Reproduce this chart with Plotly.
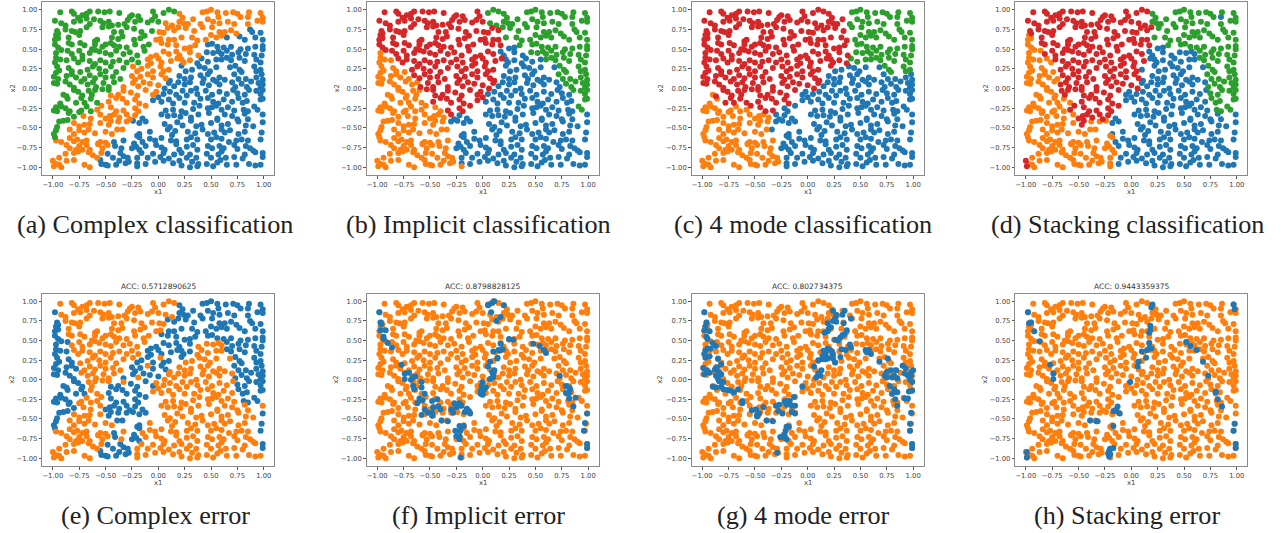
import plotly.graph_objects as go

# Shared sample locations, one list per x2 band, sorted by x1.
points = [
 [(-0.93,0.97),(-0.82,0.98),(-0.8,0.95),(-0.76,0.9),(-0.72,0.93),(-0.68,0.95),(-0.65,0.98),(-0.57,0.98),(-0.51,0.97),(-0.46,0.98),(-0.37,0.96),(-0.27,0.91),(-0.25,0.93),(-0.19,0.92),(-0.05,0.98),(-0.03,0.92),(0.05,0.96),(0.1,1.0),(0.15,0.98),(0.2,0.95),(0.23,0.9),(0.42,0.97),(0.46,0.98),(0.5,1.0),(0.56,0.97),(0.57,0.91),(0.64,0.96),(0.71,0.97),(0.75,0.95),(0.78,0.91),(0.86,0.97),(0.85,0.91),(0.97,0.96),(0.99,0.9)],
 [(-0.98,0.86),(-0.92,0.83),(-0.88,0.8),(-0.8,0.85),(-0.74,0.86),(-0.68,0.89),(-0.65,0.82),(-0.61,0.88),(-0.55,0.86),(-0.52,0.83),(-0.47,0.85),(-0.44,0.8),(-0.38,0.81),(-0.32,0.82),(-0.29,0.87),(-0.22,0.85),(-0.17,0.87),(-0.1,0.84),(-0.06,0.87),(0.0,0.85),(0.07,0.83),(0.13,0.8),(0.2,0.85),(0.24,0.83),(0.28,0.82),(0.33,0.88),(0.4,0.82),(0.47,0.88),(0.52,0.85),(0.58,0.83),(0.66,0.85),(0.72,0.82),(0.85,0.82),(0.94,0.86),(0.99,0.85)],
 [(-0.96,0.73),(-0.95,0.7),(-0.88,0.75),(-0.82,0.73),(-0.79,0.72),(-0.74,0.73),(-0.68,0.78),(-0.53,0.78),(-0.47,0.79),(-0.42,0.72),(-0.35,0.72),(-0.3,0.78),(-0.23,0.76),(-0.16,0.72),(-0.06,0.73),(0.01,0.72),(0.05,0.71),(0.09,0.77),(0.15,0.74),(0.19,0.78),(0.26,0.77),(0.34,0.73),(0.42,0.78),(0.51,0.78),(0.58,0.72),(0.63,0.72),(0.69,0.74),(0.74,0.7),(0.87,0.75),(0.89,0.72),(0.97,0.71)],
 [(-0.97,0.68),(-0.95,0.64),(-0.98,0.62),(-0.85,0.65),(-0.75,0.68),(-0.6,0.6),(-0.58,0.62),(-0.44,0.65),(-0.38,0.63),(-0.34,0.66),(-0.23,0.62),(-0.17,0.64),(-0.13,0.67),(-0.02,0.62),(0.02,0.63),(0.1,0.62),(0.15,0.62),(0.22,0.65),(0.32,0.65),(0.37,0.61),(0.45,0.62),(0.5,0.68),(0.55,0.65),(0.6,0.67),(0.65,0.65),(0.77,0.66),(0.82,0.62),(0.92,0.65),(0.99,0.62)],
 [(-0.98,0.56),(-0.95,0.52),(-0.85,0.58),(-0.82,0.56),(-0.74,0.58),(-0.7,0.55),(-0.63,0.5),(-0.6,0.56),(-0.53,0.53),(-0.5,0.56),(-0.45,0.58),(-0.42,0.55),(-0.37,0.53),(-0.3,0.52),(-0.22,0.56),(-0.14,0.53),(-0.09,0.56),(0.03,0.58),(0.09,0.56),(0.17,0.55),(0.25,0.51),(0.3,0.52),(0.35,0.55),(0.47,0.56),(0.51,0.57),(0.56,0.53),(0.62,0.52),(0.69,0.53),(0.78,0.5),(0.85,0.51),(0.92,0.53),(0.99,0.54),(0.99,0.5)],
 [(-0.97,0.45),(-0.92,0.49),(-0.86,0.48),(-0.82,0.44),(-0.75,0.48),(-0.72,0.42),(-0.65,0.45),(-0.6,0.49),(-0.56,0.47),(-0.5,0.45),(-0.45,0.43),(-0.4,0.48),(-0.33,0.44),(-0.27,0.46),(-0.2,0.42),(-0.13,0.48),(-0.07,0.4),(-0.02,0.42),(0.05,0.47),(0.1,0.44),(0.17,0.47),(0.2,0.42),(0.3,0.46),(0.38,0.42),(0.46,0.46),(0.52,0.45),(0.57,0.47),(0.6,0.44),(0.65,0.48),(0.7,0.43),(0.76,0.46),(0.83,0.44),(0.91,0.43),(0.98,0.42)],
 [(-0.97,0.39),(-0.93,0.37),(-0.98,0.33),(-0.87,0.36),(-0.8,0.38),(-0.76,0.33),(-0.72,0.37),(-0.65,0.35),(-0.6,0.31),(-0.55,0.36),(-0.5,0.33),(-0.43,0.34),(-0.37,0.36),(-0.3,0.33),(-0.25,0.37),(-0.19,0.33),(-0.1,0.37),(-0.07,0.32),(0.0,0.38),(0.03,0.33),(0.12,0.35),(0.18,0.38),(0.22,0.37),(0.24,0.33),(0.3,0.36),(0.37,0.32),(0.41,0.38),(0.47,0.34),(0.55,0.37),(0.6,0.37),(0.65,0.39),(0.69,0.36),(0.77,0.39),(0.82,0.35),(0.93,0.37),(0.97,0.33)],
 [(-0.96,0.28),(-0.94,0.23),(-0.97,0.2),(-0.85,0.26),(-0.82,0.22),(-0.74,0.21),(-0.67,0.24),(-0.62,0.28),(-0.56,0.25),(-0.5,0.22),(-0.45,0.28),(-0.4,0.21),(-0.33,0.26),(-0.24,0.28),(-0.2,0.22),(-0.16,0.25),(-0.1,0.29),(-0.05,0.22),(0.02,0.28),(0.05,0.22),(0.1,0.24),(0.22,0.29),(0.26,0.22),(0.32,0.24),(0.39,0.28),(0.44,0.26),(0.49,0.22),(0.55,0.27),(0.68,0.27),(0.73,0.29),(0.77,0.24),(0.79,0.21),(0.91,0.28),(0.93,0.22),(0.97,0.24)],
 [(-0.99,0.15),(-0.95,0.12),(-0.87,0.16),(-0.82,0.18),(-0.78,0.14),(-0.7,0.12),(-0.65,0.17),(-0.6,0.13),(-0.55,0.18),(-0.5,0.14),(-0.43,0.15),(-0.36,0.12),(-0.25,0.16),(-0.22,0.11),(-0.17,0.15),(-0.1,0.18),(-0.05,0.14),(0.03,0.18),(0.07,0.13),(0.11,0.1),(0.2,0.16),(0.25,0.12),(0.31,0.14),(0.4,0.17),(0.43,0.12),(0.47,0.18),(0.52,0.11),(0.58,0.14),(0.63,0.11),(0.72,0.18),(0.76,0.12),(0.83,0.12),(0.93,0.14),(0.98,0.18),(0.99,0.11)],
 [(-0.99,0.07),(-0.96,0.06),(-0.88,0.09),(-0.84,0.05),(-0.8,0.01),(-0.73,0.09),(-0.67,0.05),(-0.62,0.08),(-0.59,0.02),(-0.52,0.07),(-0.47,0.02),(-0.42,0.08),(-0.33,0.02),(-0.24,0.07),(-0.19,0.03),(-0.14,0.08),(-0.08,0.06),(0.0,0.04),(0.06,0.0),(0.1,0.07),(0.15,0.03),(0.19,0.08),(0.25,0.05),(0.3,0.08),(0.36,0.0),(0.42,0.07),(0.48,0.04),(0.55,0.09),(0.58,0.05),(0.7,0.08),(0.73,0.02),(0.79,0.06),(0.84,0.02),(0.88,0.09),(0.95,0.07),(0.99,0.05),(0.97,0.01)],
 [(-0.9,-0.08),(-0.87,-0.1),(-0.8,-0.02),(-0.76,-0.04),(-0.72,-0.09),(-0.66,-0.03),(-0.63,-0.08),(-0.6,-0.02),(-0.53,-0.01),(-0.47,-0.02),(-0.45,-0.09),(-0.38,-0.08),(-0.33,-0.03),(-0.26,-0.05),(-0.2,-0.09),(-0.12,-0.02),(-0.05,-0.08),(-0.02,-0.04),(0.05,-0.07),(0.11,-0.04),(0.17,-0.08),(0.23,-0.03),(0.27,-0.09),(0.31,-0.03),(0.37,-0.07),(0.45,-0.03),(0.51,-0.08),(0.58,-0.04),(0.65,-0.07),(0.71,-0.02),(0.75,-0.06),(0.82,-0.08),(0.86,-0.02),(0.93,-0.03),(0.97,-0.07),(0.99,-0.02)],
 [(-0.93,-0.19),(-0.86,-0.13),(-0.78,-0.18),(-0.73,-0.12),(-0.7,-0.18),(-0.64,-0.13),(-0.58,-0.18),(-0.47,-0.17),(-0.4,-0.12),(-0.34,-0.13),(-0.3,-0.18),(-0.22,-0.14),(-0.18,-0.19),(-0.05,-0.15),(0.0,-0.11),(0.03,-0.17),(0.1,-0.14),(0.14,-0.19),(0.2,-0.12),(0.25,-0.18),(0.34,-0.18),(0.4,-0.13),(0.47,-0.12),(0.52,-0.17),(0.57,-0.19),(0.62,-0.14),(0.7,-0.17),(0.76,-0.12),(0.8,-0.18),(0.84,-0.16),(0.97,-0.14),(0.99,-0.13)],
 [(-0.99,-0.28),(-0.96,-0.29),(-0.97,-0.24),(-0.92,-0.23),(-0.88,-0.25),(-0.84,-0.29),(-0.73,-0.28),(-0.68,-0.23),(-0.64,-0.29),(-0.54,-0.22),(-0.58,-0.27),(-0.45,-0.24),(-0.4,-0.29),(-0.33,-0.28),(-0.22,-0.25),(-0.19,-0.29),(-0.12,-0.22),(0.07,-0.28),(0.14,-0.27),(0.22,-0.29),(0.33,-0.26),(0.39,-0.22),(0.47,-0.25),(0.51,-0.24),(0.55,-0.22),(0.6,-0.27),(0.66,-0.24),(0.72,-0.28),(0.81,-0.27),(0.85,-0.29),(0.91,-0.23),(0.94,-0.27)],
 [(-0.85,-0.31),(-0.8,-0.36),(-0.75,-0.3),(-0.71,-0.35),(-0.64,-0.38),(-0.55,-0.33),(-0.5,-0.38),(-0.46,-0.35),(-0.42,-0.33),(-0.37,-0.37),(-0.3,-0.33),(-0.27,-0.39),(-0.22,-0.34),(-0.15,-0.38),(0.03,-0.33),(0.09,-0.35),(0.15,-0.34),(0.21,-0.36),(0.26,-0.31),(0.31,-0.37),(0.38,-0.33),(0.48,-0.31),(0.56,-0.38),(0.63,-0.33),(0.7,-0.35),(0.75,-0.39),(0.82,-0.32),(0.85,-0.39),(0.99,-0.33)],
 [(-0.96,-0.49),(-0.94,-0.42),(-0.9,-0.41),(-0.86,-0.4),(-0.8,-0.44),(-0.75,-0.48),(-0.7,-0.46),(-0.65,-0.45),(-0.55,-0.44),(-0.47,-0.46),(-0.45,-0.41),(-0.38,-0.42),(-0.3,-0.42),(-0.24,-0.41),(-0.18,-0.44),(-0.12,-0.42),(0.06,-0.45),(0.11,-0.49),(0.18,-0.43),(0.23,-0.47),(0.31,-0.41),(0.36,-0.48),(0.41,-0.46),(0.5,-0.44),(0.56,-0.4),(0.6,-0.47),(0.66,-0.45),(0.76,-0.42),(0.83,-0.47),(0.9,-0.48),(0.99,-0.43)],
 [(-0.99,-0.58),(-0.97,-0.53),(-0.84,-0.52),(-0.8,-0.58),(-0.75,-0.53),(-0.7,-0.56),(-0.66,-0.52),(-0.6,-0.57),(-0.5,-0.55),(-0.44,-0.58),(-0.34,-0.52),(-0.39,-0.52),(-0.2,-0.6),(-0.18,-0.58),(-0.08,-0.55),(0.09,-0.52),(0.13,-0.59),(0.16,-0.54),(0.28,-0.55),(0.35,-0.57),(0.42,-0.52),(0.47,-0.58),(0.53,-0.56),(0.6,-0.52),(0.63,-0.56),(0.68,-0.53),(0.76,-0.58),(0.82,-0.55),(0.98,-0.56)],
 [(-0.98,-0.62),(-0.97,-0.66),(-0.92,-0.68),(-0.84,-0.63),(-0.8,-0.67),(-0.77,-0.65),(-0.72,-0.68),(-0.68,-0.66),(-0.57,-0.7),(-0.55,-0.68),(-0.5,-0.69),(-0.42,-0.68),(-0.33,-0.66),(-0.23,-0.7),(-0.18,-0.62),(-0.15,-0.68),(-0.08,-0.64),(-0.03,-0.66),(0.03,-0.63),(0.12,-0.66),(0.17,-0.67),(0.27,-0.65),(0.31,-0.62),(0.37,-0.65),(0.5,-0.65),(0.55,-0.62),(0.6,-0.64),(0.67,-0.68),(0.74,-0.66),(0.79,-0.65),(0.85,-0.66),(0.97,-0.65)],
 [(-0.87,-0.72),(-0.84,-0.76),(-0.78,-0.78),(-0.75,-0.73),(-0.72,-0.78),(-0.68,-0.72),(-0.65,-0.78),(-0.57,-0.71),(-0.53,-0.76),(-0.48,-0.72),(-0.41,-0.73),(-0.35,-0.76),(-0.25,-0.76),(-0.21,-0.74),(-0.18,-0.78),(-0.12,-0.73),(-0.02,-0.72),(0.03,-0.75),(0.06,-0.78),(0.17,-0.71),(0.2,-0.78),(0.27,-0.74),(0.33,-0.72),(0.37,-0.78),(0.47,-0.73),(0.51,-0.76),(0.58,-0.73),(0.62,-0.76),(0.72,-0.72),(0.75,-0.77),(0.83,-0.73),(0.87,-0.76),(0.9,-0.79)],
 [(-0.94,-0.88),(-0.88,-0.83),(-0.8,-0.82),(-0.76,-0.8),(-0.66,-0.81),(-0.62,-0.85),(-0.58,-0.88),(-0.54,-0.82),(-0.48,-0.83),(-0.43,-0.88),(-0.36,-0.82),(-0.33,-0.86),(-0.29,-0.88),(-0.2,-0.88),(-0.16,-0.82),(-0.1,-0.88),(-0.05,-0.83),(0.02,-0.87),(0.05,-0.82),(0.1,-0.89),(0.15,-0.84),(0.22,-0.82),(0.27,-0.88),(0.3,-0.84),(0.36,-0.88),(0.46,-0.83),(0.5,-0.88),(0.57,-0.84),(0.6,-0.8),(0.64,-0.88),(0.72,-0.87),(0.82,-0.84),(0.8,-0.89),(0.92,-0.81),(0.99,-0.82),(0.99,-0.87)],
 [(-1.0,-0.92),(-0.99,-0.99),(-0.97,-0.96),(-0.94,-0.97),(-0.92,-1.0),(-0.87,-0.92),(-0.8,-0.91),(-0.7,-0.97),(-0.65,-1.0),(-0.55,-0.91),(-0.54,-0.96),(-0.5,-0.97),(-0.48,-0.98),(-0.4,-0.97),(-0.37,-0.92),(-0.31,-0.95),(-0.28,-0.93),(-0.2,-0.95),(-0.2,-0.99),(-0.12,-0.96),(-0.03,-0.93),(0.05,-0.92),(0.14,-0.95),(0.2,-0.92),(0.22,-0.98),(0.3,-1.0),(0.32,-0.93),(0.37,-0.99),(0.38,-0.96),(0.46,-0.96),(0.52,-0.99),(0.56,-0.94),(0.59,-0.91),(0.65,-0.97),(0.74,-0.97),(0.86,-0.96),(0.92,-0.98),(0.97,-0.97)],
]

# Class of each point per band, run-length coded "classxcount" in x1 order.
labels_a = ["2x19 1x14","2x20 1x15","2x15 1x13 0x3","2x13 1x11 0x5","2x17 1x6 0x10","2x16 1x8 0x10","2x16 1x9 0x11","2x13 1x8 0x14","2x12 1x7 0x16","2x12 1x6 0x19","2x10 1x8 0x18","2x7 1x6 0x19","2x9 1x8 0x15","2x3 1x10 0x16","2x4 1x9 0x18","2x2 1x10 0x17","2x1 1x10 0x21","1x10 0x23","1x8 0x28","1x9 0x29"]
labels_b = ["3x16 2x17","3x20 2x15","3x19 2x12","3x17 2x12","3x20 0x2 2x11","1x1 3x19 0x4 2x10","1x4 3x18 0x7 2x7","1x6 3x15 0x8 2x6","1x6 3x14 0x9 2x6","1x8 3x12 0x11 2x6","1x8 3x10 0x14 2x4","1x7 3x8 0x15 2x2","1x13 3x4 0x13 2x2","1x10 3x1 0x18","1x12 0x19","1x12 0x17","1x13 0x19","1x12 0x21","1x13 0x23","1x17 0x1 1x1 0x19"]
labels_c = ["3x21 2x12","3x26 2x9","3x22 2x9","3x20 2x9","3x23 2x10","3x24 2x10","3x26 2x10","3x22 0x7 2x6","3x20 0x15","3x20 0x17","1x1 3x15 0x20","1x2 3x11 0x19","1x9 3x1 1x1 3x3 0x18","1x10 0x19","1x12 0x19","1x10 0x1 1x1 0x17","1x13 0x19","1x12 0x21","1x13 0x23","1x17 0x21"]
labels_d = ["3x19 2x12 0x1 2x1","3x22 2x13","3x20 2x11","1x3 3x14 2x12","1x2 3x18 0x2 2x11","1x3 3x17 0x8 2x6","1x6 3x15 0x9 2x6","1x6 3x14 0x9 2x6","1x6 3x13 0x10 2x6","1x6 3x13 0x11 2x7","1x5 3x11 0x14 2x6","1x7 3x6 0x14 2x5","1x9 3x8 0x11 2x4","1x6 3x7 0x16","1x9 3x2 1x3 0x17","1x13 0x16","1x15 0x17","1x15 0x18","1x15 0x21","3x2 1x17 0x19"]
labels_e = ["1x19 0x14","0x1 1x21 0x13","0x2 1x15 0x14","0x3 1x12 0x14","0x2 1x15 0x16","0x3 1x13 0x7 1x5 0x6","0x4 1x12 0x9 1x5 0x6","0x5 1x9 0x4 1x1 0x3 1x7 0x6","0x5 1x7 0x3 1x1 0x3 1x10 0x6","0x5 1x7 0x2 1x1 0x3 1x12 0x7","0x5 1x5 0x2 1x1 0x4 1x13 0x6","0x5 1x2 0x6 1x14 0x5","0x6 1x5 0x6 1x11 0x4","0x2 1x4 0x8 1x15","0x4 1x5 0x7 1x14 0x1","0x2 1x8 0x4 1x14 0x1","0x1 1x10 0x1 1x1 0x2 1x16 0x1","1x10 0x1 1x1 0x3 1x18","1x8 0x5 1x21 0x2","1x9 0x8 1x21"]

# Misclassified points (f), (g), (h).
errors_f = [(-0.98,0.86),(-0.97,0.73),(-0.96,0.71),(-0.97,0.63),(-0.94,0.55),(-0.94,0.52),(-0.92,0.63),(-0.9,0.47),(-0.86,0.41),(-0.77,0.19),(-0.74,0.08),(-0.7,0.09),(-0.74,0.01),(-0.68,0.0),(-0.66,0.03),(-0.64,0.04),(-0.66,-0.08),(-0.65,-0.12),(-0.58,-0.03),(-0.58,-0.1),(-0.55,-0.18),(-0.6,-0.24),(-0.62,-0.3),(-0.57,-0.26),(-0.48,-0.27),(-0.43,-0.25),(-0.47,-0.35),(-0.42,-0.34),(-0.4,-0.38),(-0.55,-0.38),(-0.52,-0.42),(-0.58,-0.45),(-0.48,-0.42),(-0.48,-0.46),(-0.39,-0.52),(-0.33,-0.53),(-0.3,-0.38),(-0.28,-0.42),(-0.27,-0.3),(-0.25,-0.35),(-0.22,-0.3),(-0.2,-0.33),(-0.15,-0.37),(-0.13,-0.4),(-0.12,-0.43),(-0.17,-0.41),(-0.26,-0.65),(-0.22,-0.59),(-0.18,-0.59),(-0.21,-0.65),(-0.22,-0.72),(-0.25,-0.72),(-0.22,-0.76),(-0.21,-0.99),(0.0,-0.03),(-0.01,-0.08),(0.01,-0.13),(-0.02,-0.14),(0.0,-0.19),(-0.02,-0.18),(0.03,-0.1),(0.05,0.17),(0.07,0.23),(0.09,0.1),(0.1,0.07),(0.11,0.12),(0.1,0.03),(0.07,0.01),(0.14,0.27),(0.14,0.28),(0.16,0.37),(0.19,0.39),(0.17,0.46),(0.1,0.36),(0.15,0.38),(0.13,0.75),(0.17,0.8),(0.08,0.86),(0.06,0.96),(0.09,0.98),(0.11,1.0),(0.05,0.95),(0.2,0.95),(0.25,0.52),(0.29,0.51),(0.48,0.46),(0.54,0.43),(0.58,0.38),(0.6,0.34),(0.73,0.05),(0.79,-0.08),(0.82,-0.1),(0.83,-0.12),(0.79,-0.17),(0.82,-0.17),(0.82,-0.24),(0.88,-0.23),(0.86,-0.34),(0.99,-0.43),(0.97,-0.55),(0.96,-0.65),(0.99,-0.82),(0.99,-0.87)]
errors_g = [(-0.98,0.86),(-0.96,0.73),(-0.97,0.68),(-0.98,0.63),(-0.93,0.62),(-0.96,0.55),(-0.95,0.52),(-0.9,0.47),(-0.87,0.43),(-0.95,0.4),(-0.92,0.4),(-0.97,0.37),(-0.98,0.33),(-0.97,0.28),(-0.93,0.3),(-0.85,0.27),(-0.82,0.2),(-0.99,0.15),(-0.96,0.12),(-0.98,0.07),(-0.93,0.09),(-0.88,0.13),(-0.86,0.16),(-0.84,0.1),(-0.82,0.07),(-0.87,0.05),(-0.85,0.01),(-0.84,-0.02),(-0.8,-0.03),(-0.9,-0.09),(-0.87,-0.1),(-0.82,-0.09),(-0.8,-0.12),(-0.76,-0.13),(-0.73,-0.14),(-0.7,-0.16),(-0.66,-0.12),(-0.62,-0.27),(-0.62,-0.3),(-0.53,-0.39),(-0.49,-0.38),(-0.48,-0.45),(-0.46,-0.43),(-0.48,-0.47),(-0.42,-0.35),(-0.39,-0.52),(-0.33,-0.53),(-0.3,-0.33),(-0.27,-0.32),(-0.28,-0.4),(-0.24,-0.43),(-0.22,-0.28),(-0.2,-0.27),(-0.17,-0.27),(-0.2,-0.32),(-0.13,-0.22),(-0.15,-0.33),(-0.12,-0.33),(-0.15,-0.41),(-0.12,-0.43),(-0.18,-0.6),(-0.2,-0.6),(-0.21,-0.65),(-0.22,-0.7),(-0.26,-0.73),(-0.22,-0.74),(-0.2,-0.76),(-0.29,-0.93),(-0.05,-0.09),(0.06,0.17),(0.1,0.25),(0.1,0.08),(0.13,0.12),(0.08,0.03),(0.12,0.05),(0.14,0.26),(0.14,0.3),(0.17,0.33),(0.15,0.37),(0.19,0.4),(0.21,0.38),(0.23,0.36),(0.24,0.32),(0.24,0.27),(0.19,0.27),(0.17,0.26),(0.26,0.22),(0.31,0.29),(0.16,0.6),(0.19,0.62),(0.2,0.65),(0.22,0.67),(0.19,0.72),(0.24,0.75),(0.27,0.74),(0.26,0.78),(0.24,0.88),(0.27,0.83),(0.33,0.83),(0.35,0.88),(0.34,0.72),(0.37,0.63),(0.35,0.58),(0.33,0.57),(0.31,0.54),(0.26,0.51),(0.29,0.5),(0.41,0.78),(0.4,0.45),(0.41,0.41),(0.36,0.38),(0.32,0.39),(0.55,0.38),(0.58,0.38),(0.56,0.35),(0.6,0.33),(0.68,0.23),(0.76,0.27),(0.75,0.1),(0.79,0.12),(0.84,0.12),(0.73,0.05),(0.75,0.03),(0.8,0.03),(0.82,0.05),(0.85,0.02),(0.78,-0.08),(0.82,-0.12),(0.85,-0.16),(0.8,-0.18),(0.83,-0.25),(0.85,-0.33),(0.92,-0.24),(0.95,-0.24),(0.9,0.18),(0.93,0.15),(0.92,0.08),(0.95,0.05),(0.98,0.1),(1.0,0.12),(0.98,0.05),(0.97,0.0),(0.99,-0.03),(0.96,-0.15),(0.99,-0.14),(0.98,-0.42),(0.97,-0.56),(0.97,-0.65),(0.99,-0.82),(0.99,-0.87)]
errors_h = [(-0.98,0.86),(-0.97,0.72),(-0.95,0.73),(-0.92,0.62),(-0.87,0.49),(-0.77,0.19),(-0.74,0.08),(-0.74,0.01),(-0.39,-0.52),(-0.33,-0.53),(-0.32,-0.53),(-0.17,-0.4),(-0.14,-0.4),(-0.13,-0.34),(-0.11,-0.43),(-0.17,-0.59),(-0.2,-0.88),(-0.21,-0.91),(-0.22,-0.94),(-0.2,-0.95),(-0.21,-0.98),(-0.17,-0.87),(-0.99,-0.92),(-0.99,-0.99),(-0.01,-0.03),(0.06,0.17),(0.07,0.23),(0.1,0.36),(0.14,0.28),(0.15,0.38),(0.17,0.4),(0.19,0.4),(0.17,0.47),(0.17,0.6),(0.18,0.63),(0.18,0.69),(0.19,0.92),(0.2,0.96),(0.52,0.48),(0.56,0.43),(0.62,0.38),(0.68,0.23),(0.73,0.05),(0.8,-0.16),(0.8,-0.15),(0.82,-0.25),(0.86,-0.34),(0.97,-0.65),(0.98,-0.56),(0.99,-0.82),(0.99,-0.87),(0.97,0.96),(0.98,0.9)]

captions = ["(a) Complex classification","(b) Implicit classification","(c) 4 mode classification","(d) Stacking classification","(e) Complex error","(f) Implicit error","(g) 4 mode error","(h) Stacking error"]
titles = ["","","","","ACC: 0.5712890625","ACC: 0.8798828125","ACC: 0.802734375","ACC: 0.9443359375"]
tick_vals = [-1.0,-0.75,-0.5,-0.25,0.0,0.25,0.5,0.75,1.0]
tick_text = ["\u22121.00","\u22120.75","\u22120.50","\u22120.25","0.00","0.25","0.50","0.75","1.00"]
class_colors = {0:"#1f77b4",1:"#ff7f0e",2:"#2ca02c",3:"#d62728"}

W, H = 1281, 533
LEFT = [42.3, 366.7, 691.7, 1015.3]
AXW = 232
ROWS = [(2, 175), (293.5, 466)]
YLAB = [12, 336, 660, 985]
CAP_X = [155, 478, 803, 1127]
CAP_Y = [224, 515]


def expand(row, spec):
    out = []
    for part in spec.split():
        c, n = part.split("x")
        out += [int(c)] * int(n)
    out = out[:len(row)]
    out += [out[-1]] * (len(row) - len(out))
    return out


def by_class(specs):
    groups = {}
    for row, spec in zip(points, specs):
        for (x, y), c in zip(row, expand(row, spec)):
            groups.setdefault(c, []).append((x, y))
    return groups


def text(s, px, py, size, color="#444", family="DejaVu Sans", angle=0):
    return dict(text=s, x=px / W, y=1 - py / H, xref="paper", yref="paper", xanchor="center", yanchor="middle",
                textangle=angle, showarrow=False, font=dict(size=size, color=color, family=family))


all_pts = [p for row in points for p in row]
panels = [by_class(labels_a), by_class(labels_b), by_class(labels_c), by_class(labels_d),
          by_class(labels_e), {1: all_pts, 0: errors_f}, {1: all_pts, 0: errors_g}, {1: all_pts, 0: errors_h}]

fig = go.Figure()
layout = dict(width=W, height=H, autosize=False, margin=dict(l=0, r=0, t=0, b=0),
              paper_bgcolor="white", plot_bgcolor="white", showlegend=False,
              font=dict(family="DejaVu Sans", color="#444"))
ann = []
for i, groups in enumerate(panels):
    n = i + 1
    r = i // 4
    c = i % 4
    l = LEFT[c]
    t, b = ROWS[r]
    sfx = "" if n == 1 else str(n)
    order = [1, 0] if i >= 5 else sorted(groups)
    for k in order:
        pts = groups[k]
        fig.add_trace(go.Scatter(x=[p[0] for p in pts], y=[p[1] for p in pts], mode="markers",
                                 xaxis="x" + sfx, yaxis="y" + sfx, hoverinfo="skip",
                                 marker=dict(color=class_colors[k], size=6, line=dict(width=0))))
    common = dict(range=[-1.1, 1.1], tickvals=tick_vals, ticktext=tick_text, ticks="outside", ticklen=2.5,
                  tickwidth=0.7, tickcolor="#555", tickfont=dict(size=6.8, color="#444"), showgrid=False,
                  zeroline=False, showline=True, linecolor="#8a8a8a", linewidth=1.2, mirror=True)
    layout["xaxis" + sfx] = dict(common, domain=[l / W, (l + AXW) / W], anchor="y" + sfx)
    layout["yaxis" + sfx] = dict(common, domain=[1 - b / H, 1 - t / H], anchor="x" + sfx)
    ann.append(text("x1", l + AXW / 2, b + 16.5, 6.8))
    ann.append(text("x2", YLAB[c], (t + b) / 2, 6.8, angle=-90))
    ann.append(text(captions[i], CAP_X[c], CAP_Y[r], 26.2, color="#222", family="Liberation Serif"))
    if titles[i]:
        ann.append(text(titles[i], l + AXW / 2, t - 7, 7.5, color="#333"))
layout["annotations"] = ann
fig.update_layout(**layout)
fig.write_html("out.html", config={"displayModeBar": False},
               post_script="document.body.style.margin='0';document.body.style.overflow='hidden';")
